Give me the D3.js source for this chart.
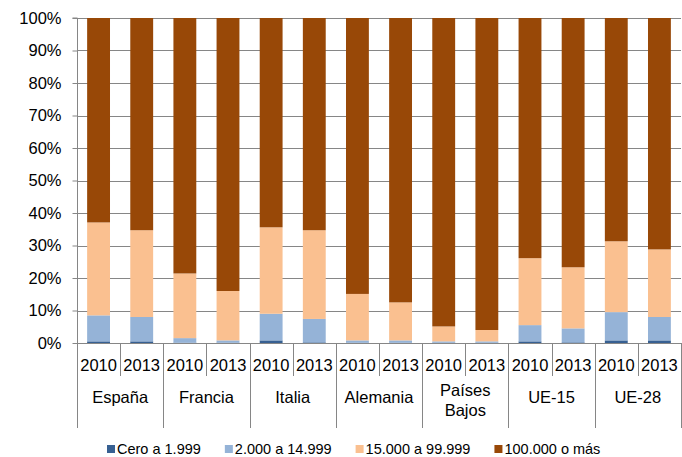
<!DOCTYPE html>
<html>
<head>
<meta charset="utf-8">
<script src="https://cdn.jsdelivr.net/npm/d3@7"></script>
<style>
  body { margin: 0; background: #ffffff; }
  svg { display: block; font-family: 'Liberation Sans', Arial, sans-serif; }
</style>
</head>
<body>
<div id="chart"></div>
<script>
const paises = ['España', 'Francia', 'Italia', 'Alemania', 'Países Bajos', 'UE-15', 'UE-28']
const anios = ['2010', '2013']
const series = ['Cero a 1.999', '2.000 a 14.999', '15.000 a 99.999', '100.000 o más']
// % por país y año (2010, 2013 alternados)
const cero = [0.5, 0.5, 0.1, 0.1, 0.8, 0.2, 0.1, 0.1, 0.1, 0.1, 0.5, 0.2, 0.8, 0.8]
const pequena = [8.0, 7.5, 1.4, 0.7, 8.2, 7.2, 0.7, 0.7, 0.4, 0.4, 5.0, 4.3, 8.7, 7.2]
const mediana = [28.6, 26.7, 19.9, 15.2, 26.6, 27.3, 14.3, 11.7, 4.6, 3.5, 20.6, 18.8, 21.8, 20.8]
const grande = [62.9, 65.3, 78.6, 84.0, 64.4, 65.3, 84.9, 87.5, 94.9, 96.0, 73.9, 76.7, 68.7, 71.2]
const ticks = [0, 10, 20, 30, 40, 50, 60, 70, 80, 90, 100]
const colores = ['#376092', '#95b3d7', '#fac090', '#984807']

const width = 682
const height = 457
const plotLeft = 77
const plotRight = 681
const plotTop = 18
const plotBottom = 343
const grid = '#868686'

const filas = []
paises.forEach((p, i) => anios.forEach((a, j) => {
  const k = i * 2 + j
  filas.push({ id: k, pais: p, anio: a, v: [cero[k], pequena[k], mediana[k], grande[k]] })
}))

const stack = d3.stack()
  .keys([0, 1, 2, 3])
  .value((d, key) => d.v[key])
const capas = stack(filas)

const svg = d3.select('#chart').append('svg')
  .attr('width', width)
  .attr('height', height)

const x = d3.scaleBand()
  .domain(filas.map(d => d.id))
  .range([plotLeft, plotRight])
  .paddingInner(0.47)
  .paddingOuter(0.235)

const xg = d3.scaleBand()
  .domain(paises)
  .range([plotLeft, plotRight])

const y = d3.scaleLinear()
  .domain([0, 100])
  .range([plotBottom, plotTop])

// gridlines
svg.append('g')
  .selectAll('line').data(ticks.slice(1)).enter()
  .append('line')
  .attr('x1', plotLeft).attr('x2', plotRight)
  .attr('y1', d => Math.round(y(d)) + 0.5).attr('y2', d => Math.round(y(d)) + 0.5)
  .style('stroke', grid)

// bars
svg.append('g')
  .selectAll('g').data(capas).enter()
  .append('g')
  .style('fill', (d, i) => colores[i])
  .selectAll('rect').data(d => d).enter()
  .append('rect')
  .attr('x', d => x(d.data.id))
  .attr('width', x.bandwidth())
  .attr('y', d => y(d[1]))
  .attr('height', d => y(d[0]) - y(d[1]))

// y axis
const yAxis = svg.append('g')
  .attr('transform', `translate(${plotLeft + 0.5},0)`)
  .call(d3.axisLeft(y).tickValues(ticks).tickFormat(d => d + '%').tickSize(5).tickPadding(11))
yAxis.select('.domain').style('stroke', grid).attr('d', `M-5,${plotTop}H0V${plotBottom}`)
yAxis.selectAll('.tick line').style('stroke', grid)
yAxis.selectAll('.tick text')
  .style('font-size', '16.5px')
  .style('fill', '#000')
  .style('font-family', "'Liberation Sans', Arial, sans-serif")

// base line
svg.append('line')
  .attr('x1', plotLeft).attr('x2', plotRight)
  .attr('y1', plotBottom + 0.5).attr('y2', plotBottom + 0.5)
  .style('stroke', grid)

// year separators
const step = x.step()
svg.append('g')
  .selectAll('line').data(filas.filter(d => d.anio === anios[1])).enter()
  .append('line')
  .attr('x1', d => Math.round(x(d.id) - (step - x.bandwidth()) / 2) + 0.5)
  .attr('x2', d => Math.round(x(d.id) - (step - x.bandwidth()) / 2) + 0.5)
  .attr('y1', plotBottom).attr('y2', 376)
  .style('stroke', grid)

// group separators
svg.append('g')
  .selectAll('line').data(paises.concat(['fin'])).enter()
  .append('line')
  .attr('x1', d => Math.round(d === 'fin' ? plotRight : xg(d)) + 0.5)
  .attr('x2', d => Math.round(d === 'fin' ? plotRight : xg(d)) + 0.5)
  .attr('y1', plotBottom).attr('y2', 428)
  .style('stroke', grid)

// year labels
svg.append('g')
  .selectAll('text').data(filas).enter()
  .append('text')
  .attr('x', d => x(d.id) + x.bandwidth() / 2)
  .attr('y', 371)
  .attr('text-anchor', 'middle')
  .style('font-size', '16.5px')
  .text(d => d.anio)

// country labels
const etiquetas = svg.append('g')
  .selectAll('text').data(paises).enter()
  .append('text')
  .attr('text-anchor', 'middle')
  .style('font-size', '16.5px')
etiquetas.each(function (d) {
  const cx = xg(d) + xg.bandwidth() / 2
  const partes = d === 'Países Bajos' ? d.split(' ') : [d]
  const y0 = partes.length > 1 ? 396 : 403
  d3.select(this).selectAll('tspan').data(partes).enter()
    .append('tspan')
    .attr('x', cx)
    .attr('y', (p, i) => y0 + i * 20)
    .text(p => p)
})

// legend
const leg = svg.append('g')
  .attr('transform', 'translate(107,445)')
let lx = 0
series.forEach((s, i) => {
  const g = leg.append('g').attr('transform', `translate(${lx},0)`)
  g.append('rect')
    .attr('width', 8).attr('height', 8)
    .style('fill', colores[i])
  const t = g.append('text')
    .attr('x', 10)
    .attr('y', 9)
    .style('font-size', '14.5px')
    .text(s)
  lx += 10 + t.node().getComputedTextLength() + 24
})
</script>
</body>
</html>
